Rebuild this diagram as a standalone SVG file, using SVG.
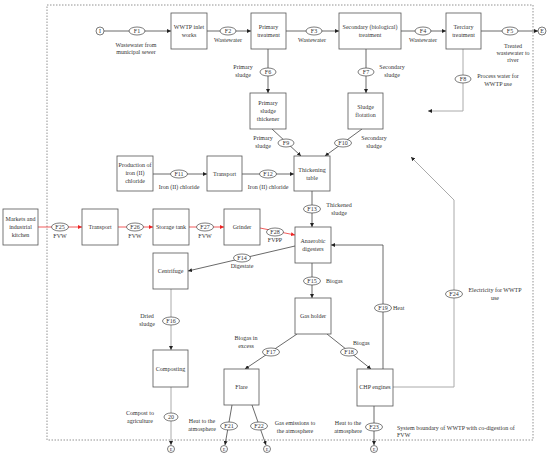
<svg xmlns="http://www.w3.org/2000/svg" width="550" height="455" viewBox="0 0 550 455">
<defs>
<style>
.box{fill:#fff;stroke:#555;stroke-width:0.8}
.t{font-family:"Liberation Serif",serif;font-size:6px;fill:#333;text-anchor:middle}
.tl{font-family:"Liberation Serif",serif;font-size:6px;fill:#333;text-anchor:start}
.ln{fill:none;stroke:#444;stroke-width:0.8}
.red{fill:none;stroke:#e33;stroke-width:0.8}
.gray{fill:none;stroke:#aaa;stroke-width:1}
.el{fill:#fff;stroke:#444;stroke-width:0.7}
.term{fill:#fff;stroke:#444;stroke-width:0.7}
.bd{fill:none;stroke:#777;stroke-width:0.8;stroke-dasharray:1.5 1.5}
</style>
<marker id="a" viewBox="0 0 6 6" refX="6" refY="3" markerWidth="4" markerHeight="4" markerUnits="userSpaceOnUse" orient="auto"><path d="M0,0L6,3L0,6z" fill="#222"/></marker>
<marker id="ar" viewBox="0 0 6 6" refX="6" refY="3" markerWidth="4" markerHeight="4" markerUnits="userSpaceOnUse" orient="auto"><path d="M0,0L6,3L0,6z" fill="#e22"/></marker>
</defs>
<rect width="550" height="455" fill="#fff"/>
<!-- system boundary -->
<path class="bd" d="M47,5H533V440H47Z"/>

<g id="connectors">
<path class="ln" d="M104,31H171" marker-end="url(#a)"/>
<path class="ln" d="M207,31H251" marker-end="url(#a)"/>
<path class="ln" d="M286,31H339" marker-end="url(#a)"/>
<path class="ln" d="M401,31H446" marker-end="url(#a)"/>
<path class="ln" d="M481,31H538" marker-end="url(#a)"/>
<path class="ln" d="M268,49V93" marker-end="url(#a)"/>
<path class="ln" d="M366,49V93" marker-end="url(#a)"/>
<path class="gray" d="M463,49V111H428" marker-end="url(#a)"/>
<path class="ln" d="M272,129L301,156" marker-end="url(#a)"/>
<path class="ln" d="M362,129L325,156" marker-end="url(#a)"/>
<path class="ln" d="M153,174H207" marker-end="url(#a)"/>
<path class="ln" d="M242,174H294" marker-end="url(#a)"/>
<path class="ln" d="M312,191V227" marker-end="url(#a)"/>
<path class="red" d="M38,227H82" marker-end="url(#ar)"/>
<path class="red" d="M118,227H153" marker-end="url(#ar)"/>
<path class="red" d="M189,227H224" marker-end="url(#ar)"/>
<path class="red" d="M260,228L295,235" marker-end="url(#ar)"/>
<path class="ln" d="M295,246L188,271" marker-end="url(#a)"/>
<path class="ln" d="M312,263V298" marker-end="url(#a)"/>
<path class="gray" d="M171,289V350" marker-end="url(#a)"/>
<path class="gray" d="M171,387V445" marker-end="url(#a)"/>
<path class="ln" d="M297,334L245,369" marker-end="url(#a)"/>
<path class="ln" d="M327,334L371,369" marker-end="url(#a)"/>
<path class="ln" d="M383,369V245H331" marker-end="url(#a)"/>
<path class="ln" d="M232,405L225,445" marker-end="url(#a)"/>
<path class="ln" d="M252,405L266,445" marker-end="url(#a)"/>
<path class="ln" d="M374,406V445" marker-end="url(#a)"/>
<path class="gray" d="M393,387H454V200L411,157" marker-end="url(#a)"/>

<!-- flow ellipses -->
<ellipse class="el" cx="137" cy="31" rx="8" ry="4"/><text class="t" x="137" y="33">F1</text>
<ellipse class="el" cx="228" cy="31" rx="8" ry="4"/><text class="t" x="228" y="33">F2</text>
<ellipse class="el" cx="314" cy="31" rx="8" ry="4"/><text class="t" x="314" y="33">F3</text>
<ellipse class="el" cx="423" cy="31" rx="8" ry="4"/><text class="t" x="423" y="33">F4</text>
<ellipse class="el" cx="510" cy="31" rx="8" ry="4"/><text class="t" x="510" y="33">F5</text>
<ellipse class="el" cx="268" cy="72" rx="8" ry="4"/><text class="t" x="268" y="74">F6</text>
<ellipse class="el" cx="366" cy="72" rx="8" ry="4"/><text class="t" x="366" y="74">F7</text>
<ellipse class="el" cx="463" cy="79" rx="8" ry="4"/><text class="t" x="463" y="81">F8</text>
<ellipse class="el" cx="286" cy="143" rx="8" ry="4"/><text class="t" x="286" y="145">F9</text>
<ellipse class="el" cx="343" cy="143" rx="8.5" ry="4"/><text class="t" x="343" y="145">F10</text>
<ellipse class="el" cx="179" cy="174" rx="8.5" ry="4"/><text class="t" x="179" y="176">F11</text>
<ellipse class="el" cx="268" cy="174" rx="8.5" ry="4"/><text class="t" x="268" y="176">F12</text>
<ellipse class="el" cx="312" cy="209" rx="8.5" ry="4"/><text class="t" x="312" y="211">F13</text>
<ellipse class="el" cx="242" cy="258" rx="8.5" ry="4"/><text class="t" x="242" y="260">F14</text>
<ellipse class="el" cx="312" cy="281" rx="8.5" ry="4"/><text class="t" x="312" y="283">F15</text>
<ellipse class="el" cx="171" cy="321" rx="8.5" ry="4"/><text class="t" x="171" y="323">F16</text>
<ellipse class="el" cx="171" cy="417" rx="7" ry="4"/><text class="t" x="171" y="419">20</text>
<ellipse class="el" cx="271" cy="352" rx="8.5" ry="4"/><text class="t" x="271" y="354">F17</text>
<ellipse class="el" cx="349" cy="352" rx="8.5" ry="4"/><text class="t" x="349" y="354">F18</text>
<ellipse class="el" cx="383" cy="308" rx="8.5" ry="4"/><text class="t" x="383" y="310">F19</text>
<ellipse class="el" cx="229" cy="426" rx="8.5" ry="4"/><text class="t" x="229" y="428">F21</text>
<ellipse class="el" cx="259" cy="426" rx="8.5" ry="4"/><text class="t" x="259" y="428">F22</text>
<ellipse class="el" cx="374" cy="427" rx="8.5" ry="4"/><text class="t" x="374" y="429">F23</text>
<ellipse class="el" cx="454" cy="294" rx="8.5" ry="4"/><text class="t" x="454" y="296">F24</text>
<ellipse class="el" cx="60" cy="227" rx="8.5" ry="4"/><text class="t" x="60" y="229">F25</text>
<ellipse class="el" cx="135" cy="227" rx="8.5" ry="4"/><text class="t" x="135" y="229">F26</text>
<ellipse class="el" cx="205" cy="227" rx="8.5" ry="4"/><text class="t" x="205" y="229">F27</text>
<ellipse class="el" cx="275" cy="232" rx="8.5" ry="4"/><text class="t" x="275" y="234">F28</text>

<!-- flow labels -->
<text class="t" x="136" y="47">Wastewater from</text><text class="t" x="136" y="54">municipal sewer</text>
<text class="t" x="228" y="42">Wastewater</text>
<text class="t" x="312" y="42">Wastewater</text>
<text class="t" x="423" y="42">Wastewater</text>
<text class="t" x="513" y="48">Treated</text><text class="t" x="513" y="55">wastewater to</text><text class="t" x="513" y="62">river</text>
<text class="t" x="243" y="69">Primary</text><text class="t" x="243" y="77">sludge</text>
<text class="t" x="392" y="69">Secondary</text><text class="t" x="392" y="77">sludge</text>
<text class="t" x="498" y="78">Process water for</text><text class="t" x="498" y="86">WWTP use</text>
<text class="t" x="263" y="140">Primary</text><text class="t" x="263" y="148">sludge</text>
<text class="t" x="374" y="140">Secondary</text><text class="t" x="374" y="148">sludge</text>
<text class="t" x="179" y="189">Iron (II) chloride</text>
<text class="t" x="268" y="189">Iron (II) chloride</text>
<text class="t" x="339" y="207">Thickened</text><text class="t" x="339" y="215">sludge</text>
<text class="t" x="60" y="238">FVW</text>
<text class="t" x="135" y="238">FVW</text>
<text class="t" x="205" y="238">FVW</text>
<text class="t" x="275" y="242">FVPP</text>
<text class="t" x="242" y="268">Digestate</text>
<text class="tl" x="326" y="283">Biogas</text>
<text class="t" x="147" y="318">Dried</text><text class="t" x="147" y="326">sludge</text>
<text class="t" x="140" y="415">Compost to</text><text class="t" x="140" y="423">agriculture</text>
<text class="t" x="246" y="340">Biogas in</text><text class="t" x="246" y="348">excess</text>
<text class="tl" x="353" y="345">Biogas</text>
<text class="tl" x="393" y="310">Heat</text>
<text class="t" x="495" y="292">Electricity for WWTP</text><text class="t" x="495" y="300">use</text>
<text class="t" x="202" y="423">Heat to the</text><text class="t" x="202" y="431">atmosphere</text>
<text class="t" x="295" y="425">Gas emissions to</text><text class="t" x="295" y="433">the atmosphere</text>
<text class="t" x="348" y="425">Heat to the</text><text class="t" x="348" y="433">atmosphere</text>
<text class="tl" x="397" y="430">System boundary of WWTP with co-digestion of</text>
<text class="tl" x="397" y="437">FVW</text>
</g>

<!-- terminals -->
<g id="start"><circle class="term" cx="100" cy="31" r="4"/><text class="t" x="100" y="33">I</text></g>
<g id="end-river"><circle class="term" cx="542" cy="31" r="4"/><text class="t" x="542" y="33">E</text></g>
<g id="end-compost"><circle class="term" cx="171" cy="449" r="3.5"/><text class="t" x="171" y="451" style="font-size:4.5px">E</text></g>
<g id="end-heat-flare"><circle class="term" cx="224" cy="449" r="3.5"/><text class="t" x="224" y="451" style="font-size:4.5px">E</text></g>
<g id="end-gas"><circle class="term" cx="267" cy="449" r="3.5"/><text class="t" x="267" y="451" style="font-size:4.5px">E</text></g>
<g id="end-heat-chp"><circle class="term" cx="374" cy="449" r="3.5"/><text class="t" x="374" y="451" style="font-size:4.5px">E</text></g>

<!-- nodes -->
<g id="inlet"><rect class="box" x="171" y="13" width="36" height="36"/><text class="t" x="189" y="29">WWTP inlet</text><text class="t" x="189" y="37">works</text></g>
<g id="primary"><rect class="box" x="251" y="13" width="35" height="36"/><text class="t" x="268.5" y="29">Primary</text><text class="t" x="268.5" y="37">treatment</text></g>
<g id="secondary"><rect class="box" x="339" y="13" width="62" height="36"/><text class="t" x="370" y="29">Secondary (biological)</text><text class="t" x="370" y="37">treatment</text></g>
<g id="tertiary"><rect class="box" x="446" y="13" width="35" height="36"/><text class="t" x="463.5" y="29">Terciary</text><text class="t" x="463.5" y="37">treatment</text></g>
<g id="thickener"><rect class="box" x="250" y="93" width="36" height="36"/><text class="t" x="268" y="105">Primary</text><text class="t" x="268" y="113">sludge</text><text class="t" x="268" y="121">thickener</text></g>
<g id="flotation"><rect class="box" x="348" y="93" width="35" height="36"/><text class="t" x="365.5" y="109">Sludge</text><text class="t" x="365.5" y="117">flotation</text></g>
<g id="iron"><rect class="box" x="117" y="156" width="36" height="35"/><text class="t" x="135" y="167">Production of</text><text class="t" x="135" y="175">iron (II)</text><text class="t" x="135" y="183">chloride</text></g>
<g id="transport1"><rect class="box" x="207" y="156" width="35" height="35"/><text class="t" x="224.5" y="176">Transport</text></g>
<g id="thickening"><rect class="box" x="294" y="156" width="36" height="35"/><text class="t" x="312" y="172">Thickening</text><text class="t" x="312" y="180">table</text></g>
<g id="markets"><rect class="box" x="3" y="209" width="35" height="36"/><text class="t" x="20.5" y="221">Markets and</text><text class="t" x="20.5" y="229">industrial</text><text class="t" x="20.5" y="237">kitchen</text></g>
<g id="transport2"><rect class="box" x="82" y="209" width="36" height="36"/><text class="t" x="100" y="229">Transport</text></g>
<g id="storage"><rect class="box" x="153" y="209" width="36" height="36"/><text class="t" x="171" y="229">Storage tank</text></g>
<g id="grinder"><rect class="box" x="224" y="209" width="36" height="36"/><text class="t" x="242" y="229">Grinder</text></g>
<g id="digesters"><rect class="box" x="295" y="227" width="36" height="36"/><text class="t" x="313" y="243">Anaerobic</text><text class="t" x="313" y="251">digesters</text></g>
<g id="centrifuge"><rect class="box" x="153" y="253" width="35" height="36"/><text class="t" x="170.5" y="273">Centrifuge</text></g>
<g id="gasholder"><rect class="box" x="295" y="298" width="36" height="36"/><text class="t" x="313" y="318">Gas holder</text></g>
<g id="composting"><rect class="box" x="153" y="350" width="35" height="37"/><text class="t" x="170.5" y="371">Composting</text></g>
<g id="flare"><rect class="box" x="224" y="369" width="35" height="36"/><text class="t" x="241.5" y="389">Flare</text></g>
<g id="chp"><rect class="box" x="357" y="369" width="36" height="37"/><text class="t" x="375" y="389">CHP engines</text></g>
</svg>
